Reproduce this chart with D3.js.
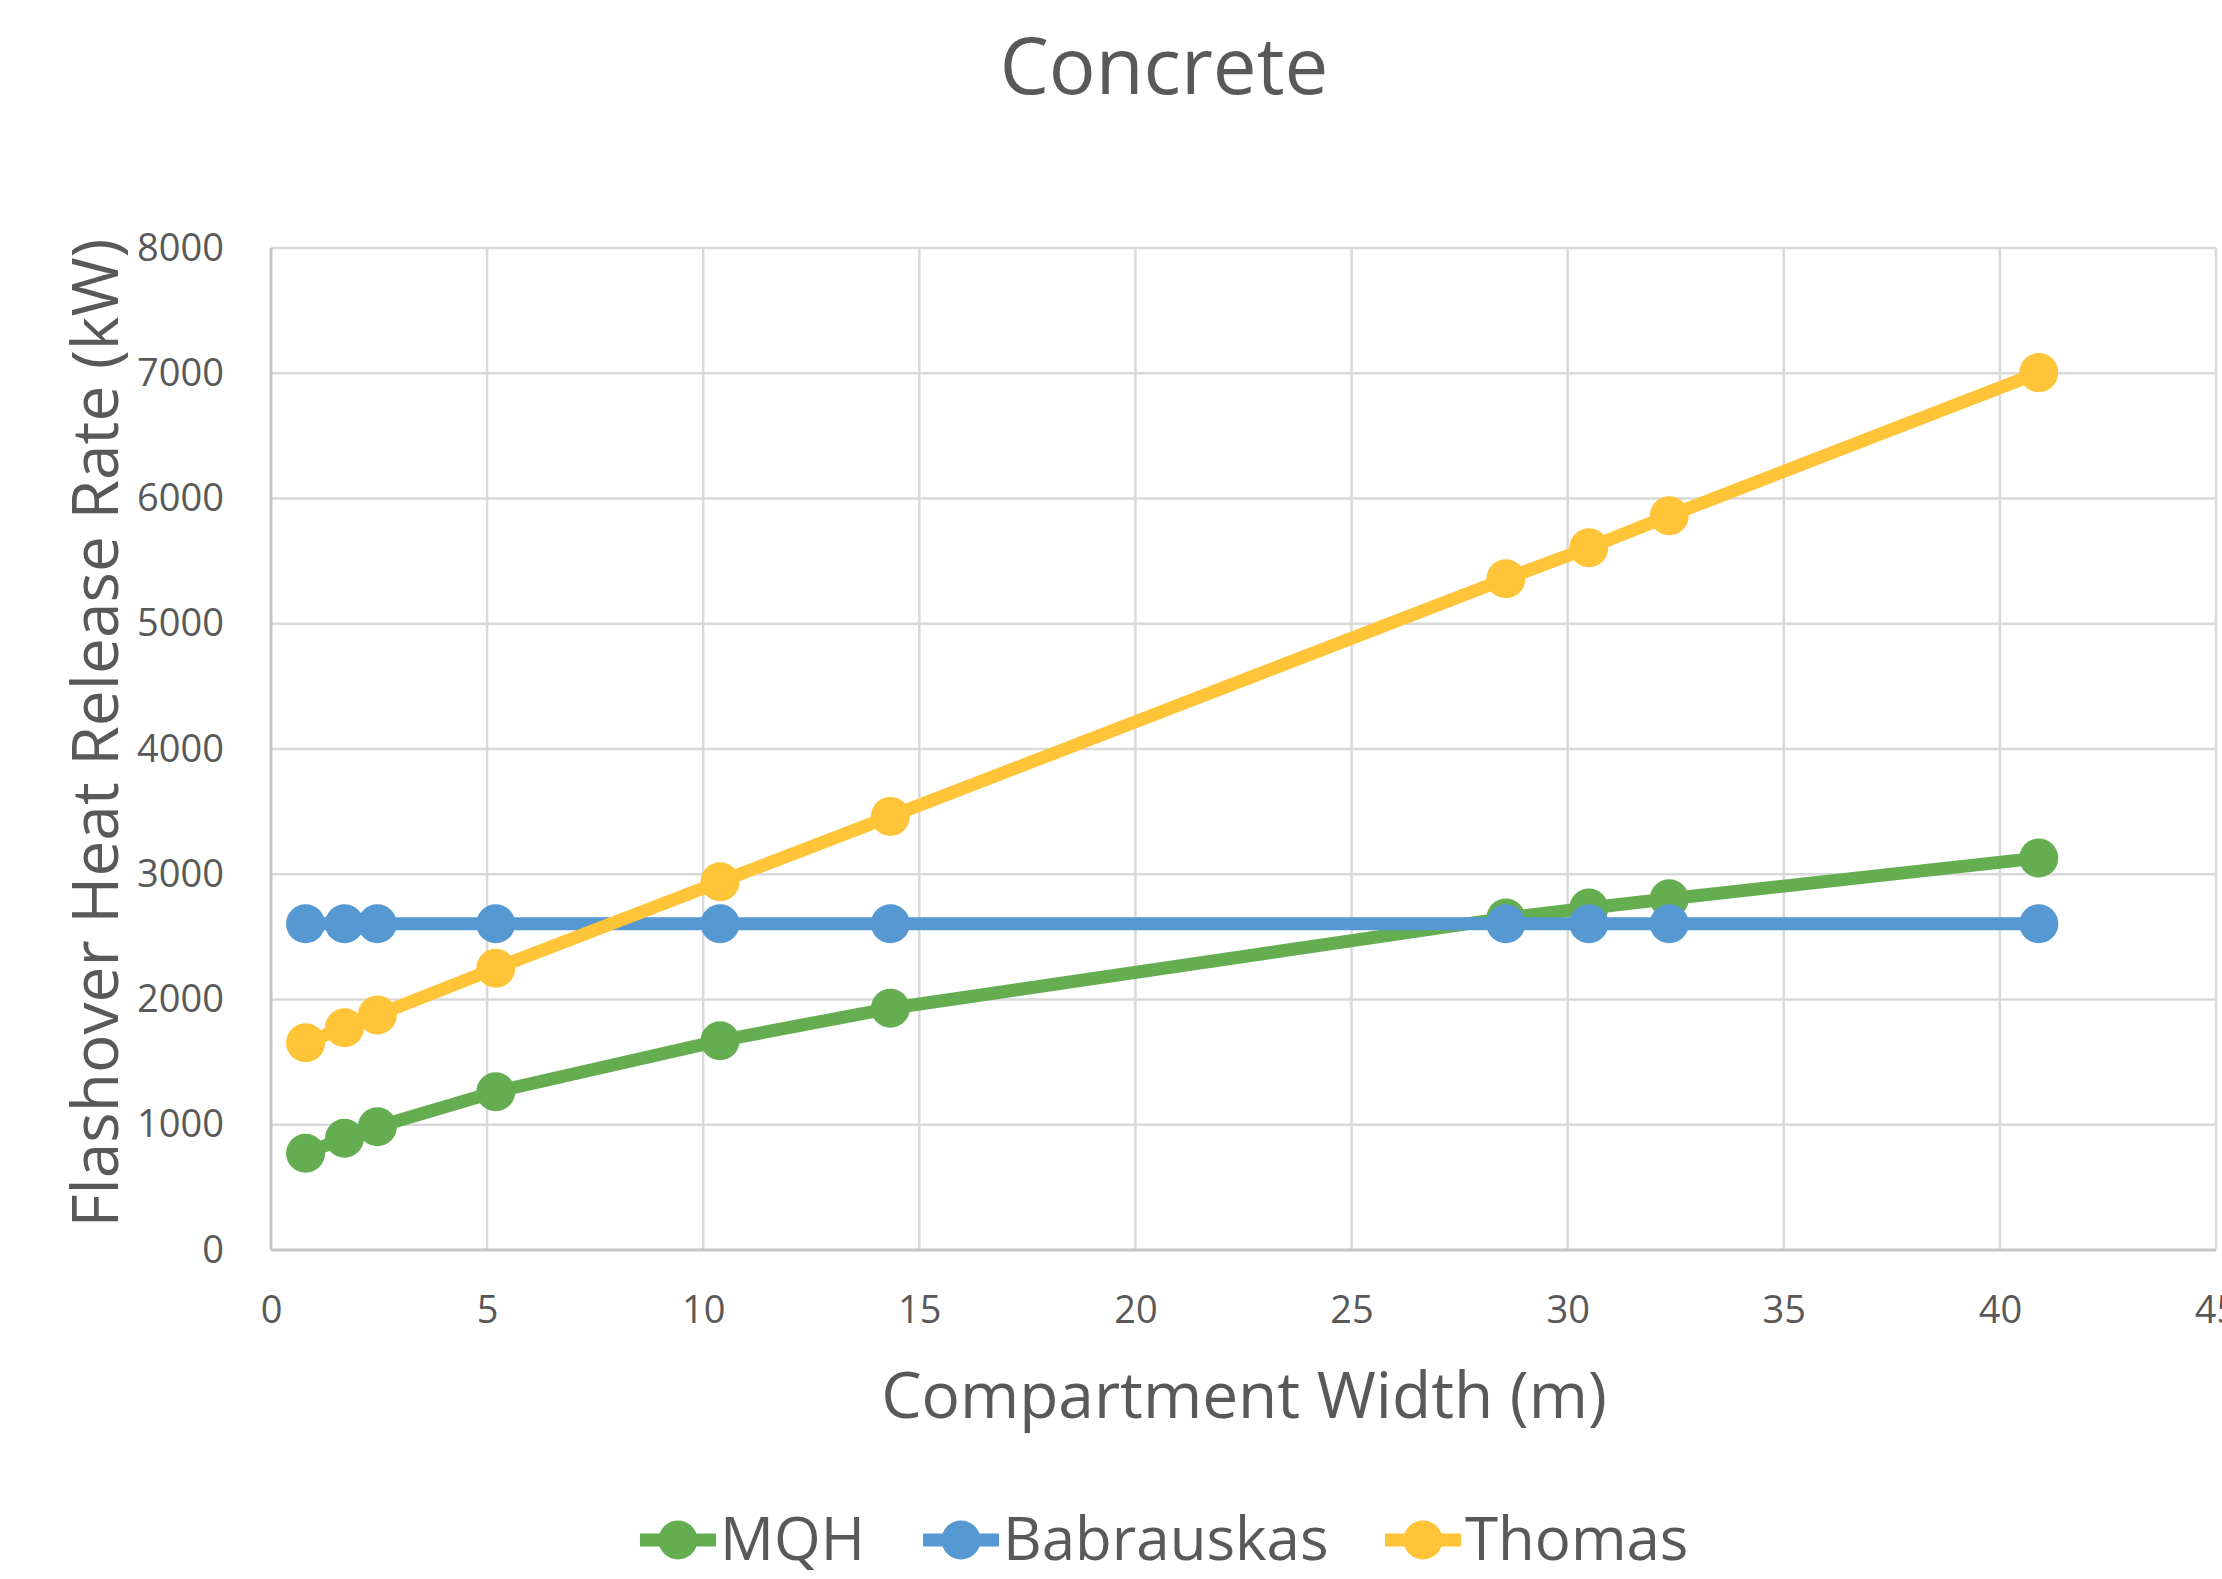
<!DOCTYPE html>
<html>
<head>
<meta charset="utf-8">
<script src="https://cdn.jsdelivr.net/npm/d3@7"></script>
<style>
  html, body { margin: 0; padding: 0; background: #ffffff; }
  svg { display: block; font-family: "Open Sans", "Noto Sans", sans-serif; }
</style>
</head>
<body>
<svg id="chart" width="2222" height="1579"></svg>
<script>
// Compartment widths (m) shared by all three correlations
const widths = [0.8, 1.7, 2.46, 5.2, 10.39, 14.33, 28.57, 30.49, 32.35, 40.9];

// Flashover heat release rate (kW) per correlation
const mqh = [772, 892, 984, 1264, 1671, 1930, 2650, 2730, 2805, 3130];
const babrauskas = [2605, 2605, 2605, 2605, 2605, 2605, 2605, 2605, 2605, 2605];
const thomas = [1655, 1775, 1876, 2249, 2940, 3462, 5359, 5607, 5862, 7005];

const seriesNames = ["MQH", "Babrauskas", "Thomas"];
const seriesColors = ["#64ae51", "#5598d2", "#ffc437"];
const seriesValues = [mqh, babrauskas, thomas];

const xTicks = [0, 5, 10, 15, 20, 25, 30, 35, 40, 45];
const yTicks = [0, 1000, 2000, 3000, 4000, 5000, 6000, 7000, 8000];

const chartTitle = "Concrete";
const xTitle = "Compartment Width (m)";
const yTitle = "Flashover Heat Release Rate (kW)";

const svg = d3.select("#chart");
const textColor = "#595959";

const plot = { left: 271, right: 2216, top: 248, bottom: 1250 };
const x = d3.scaleLinear().domain([0, 45]).range([plot.left, plot.right]);
const y = d3.scaleLinear().domain([0, 8000]).range([plot.bottom, plot.top]);

// Gridlines
const grid = svg.append("g");
grid.selectAll("line.v").data(xTicks.slice(1)).join("line")
  .attr("x1", d => x(d)).attr("x2", d => x(d))
  .attr("y1", plot.top).attr("y2", plot.bottom)
  .attr("stroke", "#d9d9d9").attr("stroke-width", 2.5);
grid.selectAll("line.h").data(yTicks.slice(1)).join("line")
  .attr("x1", plot.left).attr("x2", plot.right)
  .attr("y1", d => y(d)).attr("y2", d => y(d))
  .attr("stroke", "#d9d9d9").attr("stroke-width", 2.5);

// Axis lines
svg.append("line")
  .attr("x1", plot.left).attr("x2", plot.left)
  .attr("y1", plot.top).attr("y2", plot.bottom)
  .attr("stroke", "#c6c6c6").attr("stroke-width", 3);
svg.append("line")
  .attr("x1", plot.left).attr("x2", plot.right)
  .attr("y1", plot.bottom).attr("y2", plot.bottom)
  .attr("stroke", "#c6c6c6").attr("stroke-width", 3);

// Tick labels
const xAxis = svg.append("g")
  .attr("transform", `translate(0,${plot.bottom})`)
  .call(d3.axisBottom(x).tickValues(xTicks).tickSize(0).tickPadding(46).tickFormat(d3.format("d")));
const yAxis = svg.append("g")
  .attr("transform", `translate(${plot.left},0)`)
  .call(d3.axisLeft(y).tickValues(yTicks).tickSize(0).tickPadding(47).tickFormat(d3.format("d")));
[xAxis, yAxis].forEach(a => {
  a.select(".domain").remove();
  a.selectAll("text")
    .attr("fill", textColor)
    .style("font-family", "'Open Sans', sans-serif")
    .style("font-size", "38px");
});

// Series lines and markers
const line = d3.line().x(d => x(d[0])).y(d => y(d[1]));
seriesValues.forEach((vals, i) => {
  const pts = widths.map((w, j) => [w, vals[j]]);
  const g = svg.append("g");
  g.append("path")
    .datum(pts)
    .attr("d", line)
    .attr("fill", "none")
    .attr("stroke", seriesColors[i])
    .attr("stroke-width", 13)
    .attr("stroke-linejoin", "round");
  g.selectAll("circle").data(pts).join("circle")
    .attr("cx", d => x(d[0])).attr("cy", d => y(d[1]))
    .attr("r", 19.5)
    .attr("fill", seriesColors[i]);
});

// Titles
svg.append("text")
  .attr("x", 1164).attr("y", 94)
  .attr("text-anchor", "middle")
  .attr("fill", textColor)
  .style("font-size", "78px")
  .text(chartTitle);

svg.append("text")
  .attr("x", 1244).attr("y", 1418)
  .attr("text-anchor", "middle")
  .attr("fill", textColor)
  .style("font-size", "64px")
  .text(xTitle);

svg.append("text")
  .attr("transform", `translate(118,733) rotate(-90)`)
  .attr("text-anchor", "middle")
  .attr("fill", textColor)
  .style("font-size", "64px")
  .text(yTitle);

// Legend
const legendX = [678, 961, 1423];
const legend = svg.append("g");
seriesNames.forEach((name, i) => {
  const cx = legendX[i];
  legend.append("line")
    .attr("x1", cx - 38).attr("x2", cx + 38)
    .attr("y1", 1540).attr("y2", 1540)
    .attr("stroke", seriesColors[i]).attr("stroke-width", 13);
  legend.append("circle")
    .attr("cx", cx).attr("cy", 1540).attr("r", 19.5)
    .attr("fill", seriesColors[i]);
  legend.append("text")
    .attr("x", cx + 42).attr("y", 1560)
    .attr("fill", textColor)
    .style("font-size", "60px")
    .text(name);
});
</script>
</body>
</html>
